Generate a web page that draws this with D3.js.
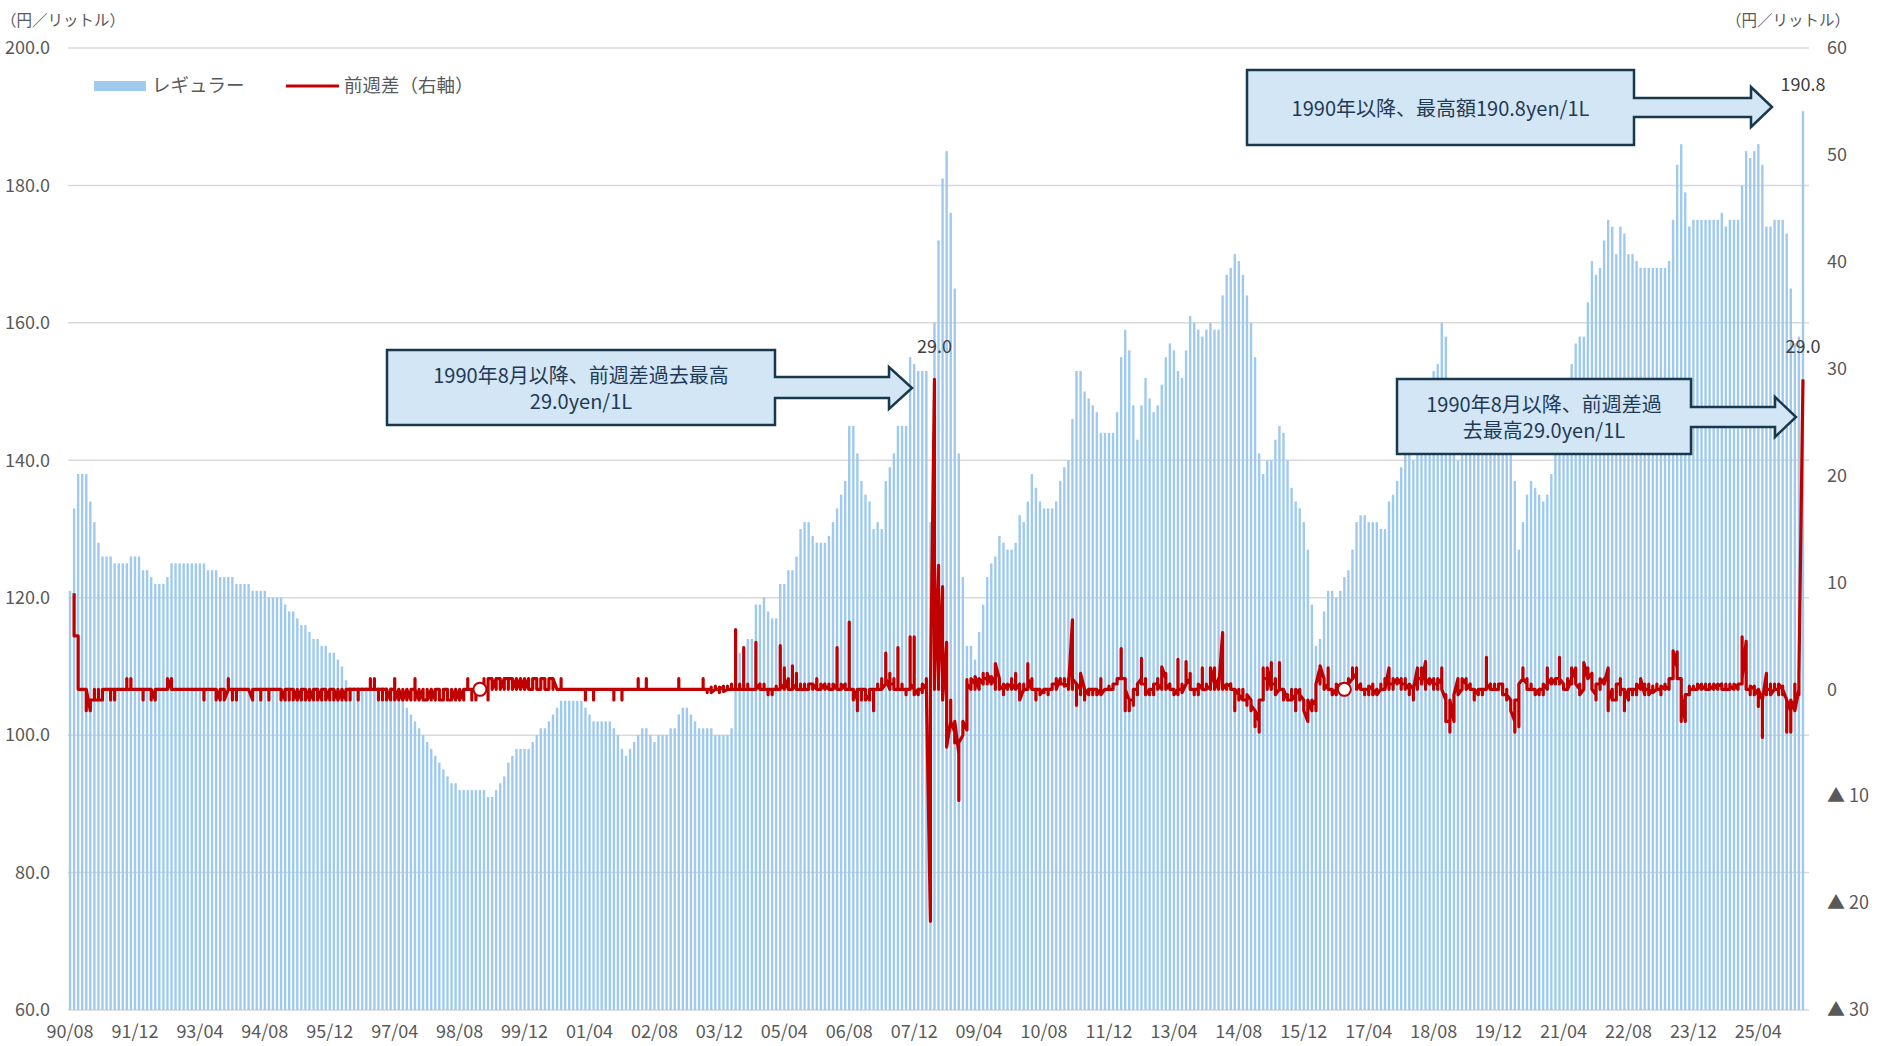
<!DOCTYPE html>
<html>
<head>
<meta charset="utf-8">
<script src="https://cdn.jsdelivr.net/npm/d3@7"></script>
<style>
  html, body { margin: 0; padding: 0; background: #fff; }
  svg text { font-family: "Noto Sans CJK JP", "Noto Sans", sans-serif; }
</style>
</head>
<body>
<svg id="chart" width="1880" height="1046"></svg>
<script>
// first month of the series (1990/08), one entry per month after that
const startMonth = new Date(1990, 7, 1);

// regular gasoline, yen per litre (highest weekly value in each month)
const regularPrice = [
  121, 133, 138, 138, 138,                                         // 1990 Aug-Dec
  134, 131, 128, 126, 126, 126, 125, 125, 125, 125, 126, 126,      // 1991
  126, 124, 124, 123, 122, 122, 122, 123, 125, 125, 125, 125,      // 1992
  125, 125, 125, 125, 125, 124, 124, 124, 123, 123, 123, 123,      // 1993
  122, 122, 122, 122, 121, 121, 121, 121, 120, 120, 120, 120,      // 1994
  119, 118, 118, 117, 116, 116, 115, 114, 114, 113, 113, 112,      // 1995
  112, 111, 110, 108, 107, 107, 107, 107, 107, 107, 107, 107,      // 1996
  107, 107, 107, 106, 106, 105, 104, 103, 102, 101, 100, 99,       // 1997
  98, 97, 96, 95, 94, 93, 93, 92, 92, 92, 92, 92,                  // 1998
  92, 92, 91, 91, 92, 93, 94, 96, 97, 98, 98, 98,                  // 1999
  98, 99, 100, 101, 101, 102, 103, 104, 105, 105, 105, 105,        // 2000
  105, 105, 104, 103, 102, 102, 102, 102, 102, 101, 100, 98,       // 2001
  97, 98, 99, 100, 101, 101, 100, 99, 100, 100, 100, 101,          // 2002
  101, 103, 104, 104, 103, 102, 101, 101, 101, 101, 100, 100,      // 2003
  100, 100, 101, 110, 112, 113, 114, 114, 119, 119, 120, 118,      // 2004
  117, 117, 122, 122, 124, 124, 126, 130, 131, 131, 129, 128,      // 2005
  128, 128, 129, 131, 133, 135, 137, 145, 145, 141, 137, 135,      // 2006
  134, 130, 131, 130, 137, 139, 141, 145, 145, 145, 155, 154,      // 2007
  153, 153, 153, 131, 160, 172, 181, 185, 176, 165, 141, 123,      // 2008
  113, 113, 111, 115, 119, 123, 125, 126, 129, 128, 127, 127,      // 2009
  128, 132, 131, 134, 138, 136, 134, 133, 133, 133, 134, 137,      // 2010
  139, 140, 146, 153, 153, 150, 149, 148, 147, 144, 144, 144,      // 2011
  144, 147, 155, 159, 156, 148, 143, 148, 152, 149, 147, 148,      // 2012
  151, 155, 157, 156, 153, 152, 156, 161, 160, 159, 158, 159,      // 2013
  160, 159, 159, 164, 167, 168, 170, 169, 167, 164, 160, 155,      // 2014
  141, 138, 140, 140, 143, 145, 144, 140, 136, 134, 133, 131,      // 2015
  127, 119, 113, 114, 118, 121, 121, 120, 121, 123, 124, 127,      // 2016
  131, 132, 132, 131, 131, 131, 130, 130, 134, 135, 137, 139,      // 2017
  141, 141, 140, 142, 146, 148, 150, 153, 154, 160, 158, 151,      // 2018
  143, 140, 143, 146, 148, 146, 144, 143, 144, 148, 148, 149,      // 2019
  151, 149, 145, 137, 127, 131, 135, 137, 136, 135, 134, 135,      // 2020
  138, 141, 147, 150, 151, 154, 157, 158, 158, 163, 169, 167,      // 2021
  168, 172, 175, 174, 170, 174, 173, 170, 170, 169, 168, 168,      // 2022
  168, 168, 168, 168, 168, 169, 175, 183, 186, 179, 174, 175,      // 2023
  175, 175, 175, 175, 175, 175, 176, 174, 175, 175, 175, 180,      // 2024
  185, 184, 185, 186, 183, 174, 174, 175, 175, 175, 173, 165,      // 2025
  157, 158, 190.8                                                  // 2026 Jan-Mar
];

// week-on-week change (right axis), the weeks of each month in order
const weeklyChange = [
  [], [9,5], [5,0,0,0], [0,0,0,0], [0,-2,-1,0],
  [-2,-1,-2,-1], [-1,0,-1,-1], [-1,-1,0,-1], [-1,0,-1,0], [0,0,0,0], [0,0,-1,0], [0,-1,0,0], [0,0,0,0], [0,0,0,0], [0,1,0,0], [0,0,1,0], [0,0,0,0],
  [0,0,0,0], [0,-1,-1,0], [0,0,0,0], [0,-1,0,0], [-1,0,0,0], [0,0,0,0], [0,0,0,0], [0,1,0,0], [1,1,0,0], [0,0,0,0], [0,0,0,0], [0,0,0,0],
  [0,0,0,0], [0,0,0,0], [0,0,0,0], [0,0,0,0], [0,0,-1,0], [0,0,0,0], [0,0,0,0], [0,-1,0,0], [-1,0,0,0], [0,0,0,-1], [0,1,0,0], [0,-1,0,0],
  [0,-1,0,0], [0,0,0,0], [0,0,0,0], [0,0,0,0], [-1,0,0,0], [0,0,0,0], [0,-1,0,0], [0,0,0,0], [0,-1,0,0], [0,0,0,0], [0,0,0,0], [0,-1,0,0],
  [-1,0,-1,0], [0,-1,0,0], [0,0,-1,0], [-1,0,0,-1], [0,-1,0,0], [0,0,-1,0], [-1,0,0,-1], [0,-1,0,0], [0,0,-1,0], [-1,0,0,0], [0,-1,0,-1], [0,0,-1,0],
  [0,-1,0,0], [-1,0,0,-1], [0,-1,0,0], [-1,0,-1,0], [0,0,-1,0], [0,0,0,0], [0,-1,0,0], [0,0,0,0], [0,0,0,0], [0,1,1,0], [0,1,0,0], [0,0,-1,0],
  [0,-1,0,0], [0,0,0,-1], [0,0,-1,0], [0,1,0,-1], [0,-1,0,0], [-1,0,0,-1], [0,-1,0,0], [-1,0,-1,0], [0,1,-1,0], [-1,0,0,-1], [0,-1,0,-1], [-1,0,0,-1],
  [0,-1,-1,0], [-1,0,-1,0], [0,-1,0,-1], [-1,0,-1,0], [0,-1,0,-1], [-1,0,0,-1], [0,-1,0,0], [-1,0,0,-1], [0,0,-1,0], [0,1,0,0], [0,0,-1,0], [0,-1,0,0],
  [0,0,0,0], [0,1,0,0], [0,-1,0,1], [1,0,1,0], [1,1,0,1], [1,0,1,0], [1,1,0,1], [1,0,1,1], [1,0,1,0], [1,0,1,0], [1,0,0,1], [0,1,0,0],
  [1,0,1,0], [0,1,0,1], [1,0,1,0], [0,1,0,1], [1,0,1,0], [0,1,0,1], [1,0,0,1], [0,0,0,0], [0,1,0,0], [0,0,0,0], [0,0,0,0], [0,0,0,0],
  [0,0,0,0], [0,0,0,0], [0,-1,0,0], [0,0,0,0], [0,0,-1,0], [0,0,0,0], [0,0,0,0], [0,0,0,0], [0,0,0,0], [0,-1,0,0], [0,0,0,0], [0,-1,0,0],
  [0,0,0,0], [0,0,0,0], [0,0,0,0], [0,1,0,0], [0,0,0,0], [0,1,1,0], [0,0,0,0], [0,0,0,0], [0,0,0,0], [0,0,0,0], [0,0,0,0], [0,0,0,0],
  [0,0,0,0], [0,1,0,0], [0,0,0,0], [0,0,0,0], [0,0,0,0], [0,0,0,0], [0,0,0,0], [0,1,0,0], [0,-0.3,0,0], [0,0.2,0,-0.3], [0,0,0.3,0], [0,-0.3,0,0.2],
  [0,0.3,0,-0.2], [0,0.3,0,0], [0,0,0.5,0], [0,5.6,1,0], [0,0.5,0,0], [0,3.9,0,0], [0,0,0.5,0], [0,0,0,0], [0,4.4,0,0], [0.5,0,0,0], [0,0.5,0,0], [0,-0.5,0,0],
  [0,-0.5,0,0], [0,0,0.3,0], [0,4.1,0,0.5], [0,2,0.5,1], [0,1,0.5,0], [0,1.5,2.2,0], [0.5,1.5,0,0], [0,0.5,0,0], [0,0,0.5,0], [0,0.3,0,0.5], [0.5,0,0,0.5], [0,1,0.3,0],
  [0,0.5,0,0], [0.5,0,0,0.3], [0,0.5,0.3,0], [0,0.3,0,0.5], [0,3.9,0,0], [0,0,0.5,0], [0.5,0,0,0], [0,6.3,0,0], [0,-0.5,-1,0], [-1,-2,-1,0], [0,-1,-0.5,0], [0,-0.5,0,-1],
  [-0.5,0,-1,0], [0,-2,-1,0], [0,0,0.5,0], [0,1,0.5,0], [0.5,3.4,0.5,1], [0,1.5,0,0.5], [0.5,0,1,0], [0,3.9,0,0], [0,0.5,0,0], [0,-0.5,0,0], [0,4.9,0,0.5], [0,4.9,0,-0.5],
  [0,-0.5,0,0], [0,-0.3,0,0.5], [0,0.5,1,0], [-21.7,0,0.3,0], [29,1,0,0.5], [11.6,0.5,0,1], [9.6,1,0,-1], [4.4,-1,-2,-5.4], [-3,-2,-1,-3], [-4,-5,-4,-3], [-6,-10.4,-7,-5], [-4.3,-4,-3],
  [-3.8,0.9,0,0.5], [0,0.5,0,1], [0.5,1,0,1.2], [0,1,0.5,1], [0.5,1.5,0.5,1], [1,0.5,1,1.5], [0.5,1,0.5,1.2], [0.5,1,0,2.4], [1,0,0.5,0.3], [0,-0.5,0,0.5], [0,0.5,0,0.2], [0.5,0,1,0.5],
  [0,0.5,1.5,0], [0.5,0,0,-1], [0,0.5,0,0], [0,2.4,0,1], [0,1,0.5,0], [0,-0.5,-1,0], [0,-0.5,0,-0.5], [0,-0.3,0,0], [0,0,-0.5,0], [0,0.5,0,0.5], [0.5,0,1,0], [1,0.5,1,0.5],
  [0.5,1,0.5,0.3], [0.5,0,1,0], [6.5,1,0,1], [0.5,-1.5,0,0.5], [0,-0.5,0,1.5], [0,-1,0,-0.5], [0,-0.5,0,0], [0,-0.5,-0.3,0], [0,-0.5,0,-0.5], [0,1,0,-0.5], [0,0,0,0], [0,0,0.3,0],
  [0,0.3,0,0.5], [0.5,1,0.5,1], [1,3.8,2,1], [1,0,-2,0], [-1,-2,-1,-1], [-1,-1.5,-1,0], [0,-0.5,0,0.5], [1,2.9,1,0.5], [0.5,1,0,-0.5], [0,-0.5,-0.5,0], [0,-0.5,0,0.5], [0.5,0,1,0],
  [0.5,1,0,2.1], [1,1.5,0.5,0], [0.5,0,0.5,0], [0,-0.5,0,-0.5], [0,2.8,-0.5,0], [0,0.5,0,-0.3], [0.5,1,2.6,0.5], [1,1.5,0.5,0], [0,-0.5,0,0], [0,-0.5,0,0.5], [0,2,0,0], [0,0.5,0,0.3],
  [0,0.5,0,2], [0.5,0,2,0], [1,0.5,0.5,0], [5.3,1,0,0.5], [0,0.5,0,0.3], [0.5,0,0.5,0], [0,-2,-0.5,0], [-0.5,-1,0,-0.5], [-1,0,-0.5,-1], [-1,-1.5,-1,-0.5], [-1,-2,-1,-1.5], [-2,-3.5,-2.5,-2],
  [-3,-4,-2,-1], [-1,0.5,2,1], [1,0.5,0,2], [0,1,2.5,0.5], [0.5,1,0,-0.5], [0,2.5,0.5,0], [0,-0.5,-1,0], [-1,-1,-0.5,-1], [-1,-0.5,0,-1], [-0.5,-2,-0.5,0], [-0.5,0,-1,-0.5], [-1,-1.5,-1,-2],
  [-3,-2,-1.5,-1], [-2,-1,-2,-1.5], [-1,-2,-0.5,0.5], [2,1,0.5,2.2], [1,0.5,1,0], [0.5,2,0.5,0], [0,-0.5,0,-0.5], [0,-0.5,0,0.5], [0,0.5,0,0], [0,0,0,0.5], [0.5,1,0,0.5], [1,2,1,1.5],
  [1,2,0.5,0], [0.5,0,0.5,0], [0,-0.5,0,0], [0,-0.5,0,0.3], [0,0.5,0,-0.5], [0,-0.5,0,-0.5], [0,0.5,0,0], [0,0.5,1,0], [2,0.5,0,0.5], [0.5,1,0,0.5], [1,0.5,0.5,1], [0.5,1,0,0.5],
  [0.5,1,0,0.5], [0,-0.5,0,0.5], [0,-0.5,-1,0], [2,0.5,0,1], [1,0.5,2,0.5], [2.6,0,0.5,1], [0.5,1,0.5,1], [0.5,0,1,0.5], [0.5,1,0,0.5], [1,2,1,0], [-1,-0.5,-1,-3], [-3,-4,-2,-1],
  [-3,-2,-1,-0.5], [1,0.5,0,-0.5], [0,1,0.5,1], [0.5,1,0.5,0], [0.5,0,0.5,0], [0,-0.5,-1,0], [-0.5,0,-0.5,0], [0,-0.5,0,0], [0,3,0.5,0], [0.5,0.5,0,0], [0,0,0.5,0], [0,0.5,0,0.5],
  [0.5,0,0.5,-0.5], [-0.5,-1,0,-0.5], [-1,-1.5,-2,-2], [-3,-4,-2,-1], [-1,-3.5,-1,0.5], [1,2,1,1], [0.5,1,0.5,0], [0,0.5,0,0], [0,-0.5,0,-0.5], [0,-0.5,0,0], [0,-0.5,0,0.5], [0,2,0.5,0.5],
  [1,0.5,1,0.5], [1,0.5,1,1], [1,3,0.5,1], [0.5,0,0.5,0], [0,0.5,1,0], [1,0.5,1,2], [1,0.5,2,0.5], [0,0.5,0,-0.5], [0,0.5,1,2.5], [1,1.5,2,1], [1.5,1,0.5,0], [-0.5,0,-1,0.5],
  [0.5,1,0,1], [0.5,1,0.5,0.5], [2,-2,0,-1], [0,-0.5,0,-1], [-1,0.5,0,0.5], [0.5,1,-0.5,0], [0,-0.5,-2,0], [-1,0,-0.5,0], [0,-0.5,0,0], [0,-0.5,0,0.5], [0,1,0.5,1], [-0.5,0,0.5,0],
  [0,0.5,0,-0.5], [0,0.3,0,-0.3], [0,0.5,0,0], [0,-0.5,0,0.3], [0,0.5,0,0.3], [0,1,0.5,1], [1,2,1.5,3.6], [2,3.5,2,1], [1,0.5,-3,-0.5], [-3,-2,-1,-0.5], [-0.5,0,0.3,0], [0,0.3,0,0],
  [0,0.3,0,0.5], [0,0.5,0,0.3], [0,0.5,0.3,0], [0,0.5,0,0.3], [0,0.3,0,0.5], [0,0.5,0,0.3], [0.5,0,0.3,0], [0,0.3,0.5,0], [0,0.5,0,0.3], [0,0.3,0,0.5], [0,0.5,0.3,0.5], [0.5,4.9,0.5,1],
  [4.5,0,0.5,0], [0,-0.5,0,0.3], [0,0.3,0,-0.5], [0,-1.6,-0.5,0], [-1,-4.5,-3,-1], [1.5,0,-0.5,0], [0,0.5,0,-0.5], [0,0.5,0,0], [0,-0.5,0,0.5], [0,0.3,-0.5,0], [-1,-4,-2,-1], [-2,-4,-3,-1],
  [-2,-1,0.5,-2], [0,1,-0.5,1.3], [29]
];

// hollow markers on the change line
const markedWeeks = [
  { month: "99/01", value: 0 },
  { month: "16/10", value: 0 }
];

const tickLabels = ["90/08", "91/12", "93/04", "94/08", "95/12", "97/04", "98/08", "99/12", "01/04",
  "02/08", "03/12", "05/04", "06/08", "07/12", "09/04", "10/08", "11/12", "13/04", "14/08", "15/12",
  "17/04", "18/08", "19/12", "21/04", "22/08", "23/12", "25/04"];
const leftTicks = [60, 80, 100, 120, 140, 160, 180, 200];
const rightTicks = [-30, -20, -10, 0, 10, 20, 30, 40, 50, 60];

// labelled points
const valueLabels = [
  { month: "08/05", axis: "right", value: 29.0, text: "29.0" },
  { month: "26/03", axis: "right", value: 29.0, text: "29.0" },
  { month: "26/03", axis: "left", value: 190.8, text: "190.8" }
];

const callouts = [
  { lines: ["1990年8月以降、前週差過去最高", "29.0yen/1L"] },
  { lines: ["1990年以降、最高額190.8yen/1L"] },
  { lines: ["1990年8月以降、前週差過", "去最高29.0yen/1L"] }
];

const barColor = "#9fcaee";
const lineColor = "#c00000";
const textColor = "#595959";

const svg = d3.select("#chart");
const plot = { left: 68, right: 1809, top: 48, bottom: 1010 };

const fmt = d3.timeFormat("%y/%m");
const monthKeys = regularPrice.map((d, i) => fmt(d3.timeMonth.offset(startMonth, i)));

const x = d3.scaleBand()
  .domain(monthKeys)
  .range([plot.left, 1805]);
const cx = k => x(k) + x.bandwidth() / 2;

const yLeft = d3.scaleLinear().domain([60, 200]).range([plot.bottom, plot.top]);
const yRight = d3.scaleLinear().domain([-30, 60]).range([plot.bottom, plot.top]);

// gridlines
svg.append("g")
  .selectAll("line")
  .data(leftTicks)
  .join("line")
  .attr("x1", plot.left)
  .attr("x2", plot.right)
  .attr("y1", d => yLeft(d))
  .attr("y2", d => yLeft(d))
  .attr("stroke", "#d9d9d9")
  .attr("stroke-width", 1.5);

// bars
const bw = 2.4;
svg.append("g")
  .selectAll("rect")
  .data(regularPrice)
  .join("rect")
  .attr("x", (d, i) => cx(monthKeys[i]) - bw / 2)
  .attr("y", d => yLeft(d))
  .attr("width", bw)
  .attr("height", d => yLeft(60) - yLeft(d))
  .attr("fill", barColor);

// week-on-week line: the weeks of a month share the month's x position
const linePoints = [];
weeklyChange.forEach((weeks, i) => {
  weeks.forEach(v => linePoints.push({ key: monthKeys[i], v: v }));
});

const line = d3.line()
  .x(d => cx(d.key))
  .y(d => yRight(d.v));

svg.append("path")
  .datum(linePoints)
  .attr("d", line)
  .attr("fill", "none")
  .attr("stroke", lineColor)
  .attr("stroke-width", 3.2)
  .attr("stroke-linejoin", "round");

svg.append("g")
  .selectAll("circle")
  .data(markedWeeks)
  .join("circle")
  .attr("cx", d => cx(d.month))
  .attr("cy", d => yRight(d.value))
  .attr("r", 6.5)
  .attr("fill", "#fff")
  .attr("stroke", lineColor)
  .attr("stroke-width", 2);

// axes
const styleAxis = g => {
  g.select(".domain").remove();
  g.selectAll("text")
    .attr("fill", textColor)
    .style("font-size", "18px");
};

svg.append("g")
  .attr("transform", `translate(52,0)`)
  .call(d3.axisLeft(yLeft).tickValues(leftTicks).tickFormat(d3.format(".1f")).tickSize(0).tickPadding(2))
  .call(styleAxis);

svg.append("g")
  .attr("transform", `translate(1827,0)`)
  .call(d3.axisRight(yRight).tickValues(rightTicks)
    .tickFormat(d => d < 0 ? "▲ " + (-d) : String(d)).tickSize(0).tickPadding(0))
  .call(styleAxis);

svg.append("g")
  .attr("transform", `translate(0,${plot.bottom})`)
  .call(d3.axisBottom(x).tickValues(tickLabels).tickSize(0).tickPadding(15))
  .call(styleAxis);

// unit captions
svg.append("text").attr("x", 1).attr("y", 22).attr("dominant-baseline", "middle")
  .attr("fill", textColor).style("font-size", "15.5px").text("（円／リットル）");
svg.append("text").attr("x", 1726).attr("y", 22).attr("dominant-baseline", "middle")
  .attr("fill", textColor).style("font-size", "15.5px").text("（円／リットル）");

// legend
const legend = svg.append("g");
legend.append("rect").attr("x", 94).attr("y", 81).attr("width", 52).attr("height", 10).attr("fill", barColor);
legend.append("text").attr("x", 152).attr("y", 87).attr("dominant-baseline", "middle")
  .attr("fill", textColor).style("font-size", "18.5px").text("レギュラー");
legend.append("line").attr("x1", 286).attr("x2", 339).attr("y1", 86).attr("y2", 86)
  .attr("stroke", lineColor).attr("stroke-width", 3);
legend.append("text").attr("x", 344).attr("y", 87).attr("dominant-baseline", "middle")
  .attr("fill", textColor).style("font-size", "18.5px").text("前週差（右軸）");

// value labels
svg.append("g")
  .selectAll("text")
  .data(valueLabels)
  .join("text")
  .attr("x", d => cx(d.month))
  .attr("y", d => d.axis === "left" ? yLeft(d.value) - 25 : yRight(d.value) - 31)
  .attr("text-anchor", "middle")
  .attr("dominant-baseline", "middle")
  .attr("fill", "#404040")
  .style("font-size", "18px")
  .text(d => d.text);

// arrow callouts
const boxes = [
  { x0: 387, x1: 775, y0: 350, y1: 425, shaft: [377, 398], head: [367, 409], base: 889, tip: 912 },
  { x0: 1247, x1: 1634, y0: 70, y1: 145, shaft: [98, 117], head: [87, 127], base: 1751, tip: 1772 },
  { x0: 1397, x1: 1691, y0: 379, y1: 454, shaft: [407, 427], head: [397, 437], base: 1775, tip: 1796 }
];

const calloutPath = b => {
  const mid = (b.head[0] + b.head[1]) / 2;
  return d3.line()([
    [b.x0, b.y0], [b.x1, b.y0], [b.x1, b.shaft[0]], [b.base, b.shaft[0]], [b.base, b.head[0]],
    [b.tip, mid], [b.base, b.head[1]], [b.base, b.shaft[1]], [b.x1, b.shaft[1]], [b.x1, b.y1], [b.x0, b.y1]
  ]) + "Z";
};

callouts.forEach((c, i) => {
  const b = boxes[i];
  const g = svg.append("g");
  g.append("path")
    .attr("d", calloutPath(b))
    .attr("fill", "#d3e6f5")
    .attr("stroke", "#18394d")
    .attr("stroke-width", 2.5)
    .attr("stroke-linejoin", "miter");
  const midY = (b.y0 + b.y1) / 2 + 3;
  const lh = 26;
  c.lines.forEach((t, j) => {
    g.append("text")
      .attr("x", (b.x0 + b.x1) / 2)
      .attr("y", midY + (j - (c.lines.length - 1) / 2) * lh)
      .attr("text-anchor", "middle")
      .attr("dominant-baseline", "middle")
      .attr("fill", "#1f3a56")
      .style("font-size", "20px")
      .text(t);
  });
});
</script>
</body>
</html>
